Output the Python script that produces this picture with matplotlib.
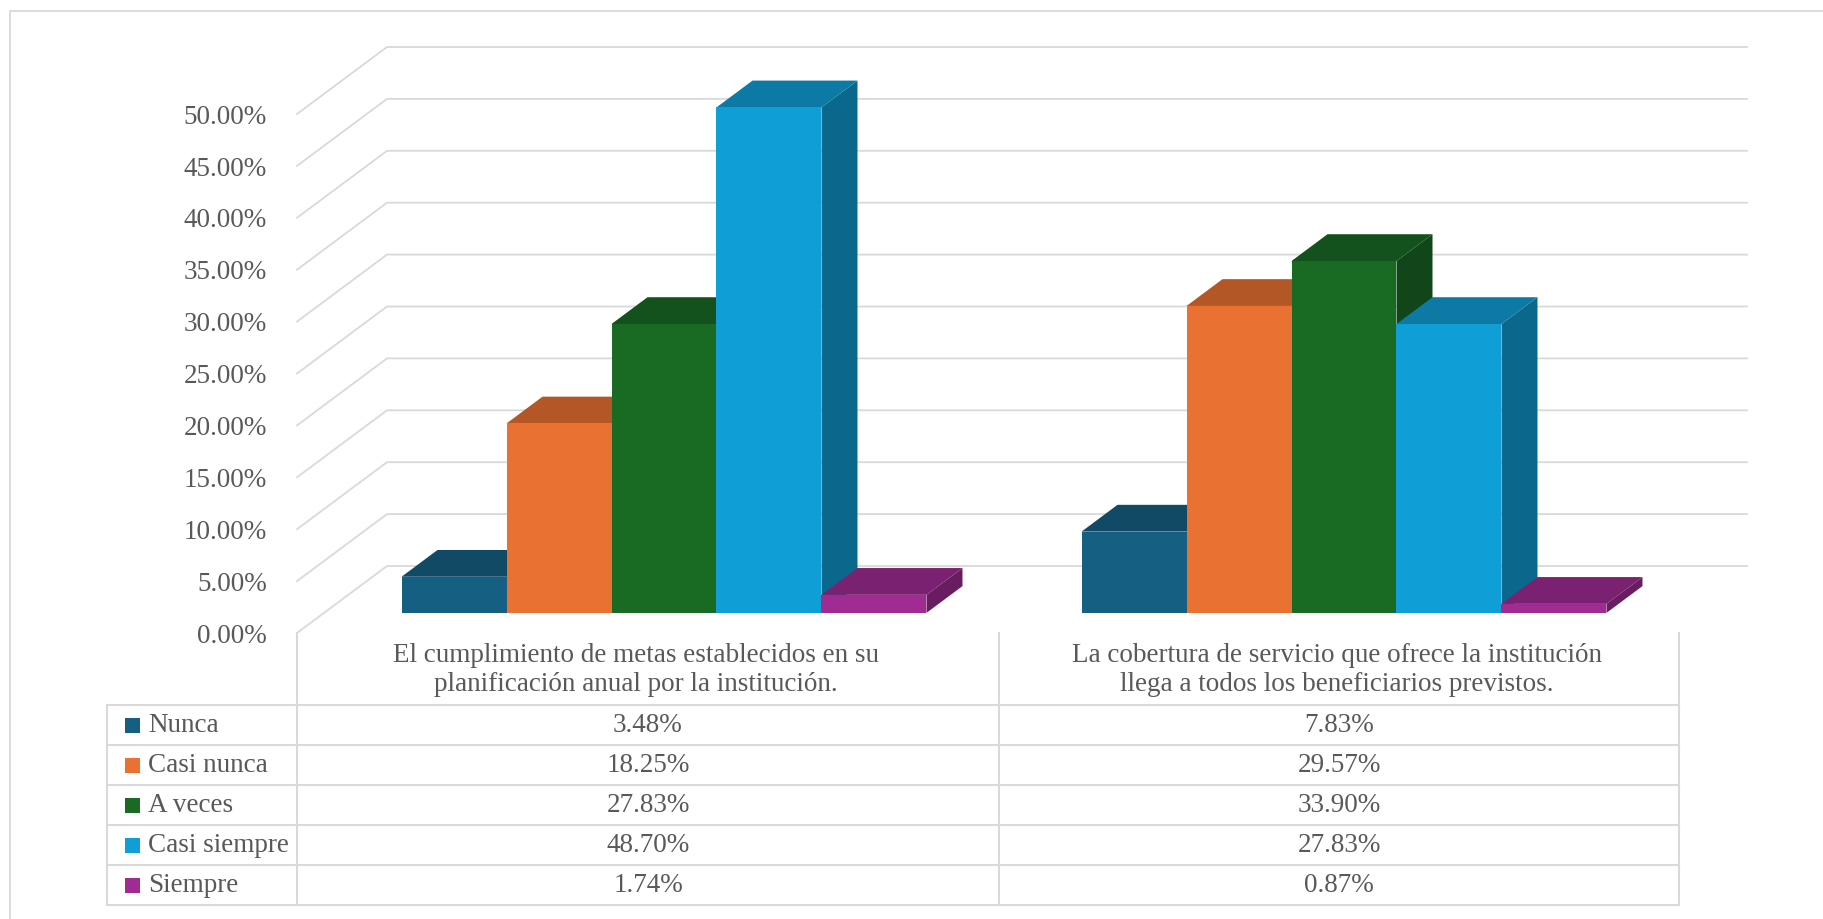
import numpy as np
import matplotlib.pyplot as plt
from matplotlib.patches import Polygon, Rectangle
from matplotlib.colors import to_rgb

plt.rcParams['font.family'] = ['Liberation Serif', 'DejaVu Serif']

## data
categorias = ['El cumplimiento de metas establecidos en su\nplanificación anual por la institución.',
              'La cobertura de servicio que ofrece la institución\nllega a todos los beneficiarios previstos.']
series = ['Nunca', 'Casi nunca', 'A veces', 'Casi siempre', 'Siempre']
nunca = [3.48, 7.83]
casi_nunca = [18.25, 29.57]
a_veces = [27.83, 33.90]
casi_siempre = [48.70, 27.83]
siempre = [1.74, 0.87]
valores = [nunca, casi_nunca, a_veces, casi_siempre, siempre]
colores = ['#156082', '#E97132', '#196B24', '#0F9ED5', '#A02B93']
yticks = np.arange(0, 55, 5)

gris = '#D9D9D9'
texto = '#595959'
fs = 19.5

W, H = 1823, 919
fig = plt.figure(figsize=(W/100, H/100), dpi=100)

## 3d-looking column chart, x in category units, y in percent
ax = fig.add_axes([0, 0, 1, 1])
px_cat = 680.0     # pixels per category
px_pct = 10.38     # pixels per percent
x0_px, y0_px = 297.0, 633.0
ax.set_xlim(-x0_px/px_cat, (W - x0_px)/px_cat)
ax.set_ylim((y0_px - H)/px_pct, y0_px/px_pct)
ax.axis('off')

# depth of the back wall (x, y offsets in data units)
WX, WY = 90.0/px_cat, 67.0/px_pct
t1, t2 = 0.3, 0.7          # bars sit in the middle of the depth
ncat = len(categorias)

def proj(x, v, t):
    return (x + t*WX, v + t*WY)

def shade(c, f):
    r, g, b = to_rgb(c)
    return (r*f, g*f, b*f)

# back wall gridlines + the diagonals coming to the front
for v in yticks:
    a = proj(0, v, 0); b = proj(0, v, 1); c = proj(ncat, v, 1)
    ax.plot([a[0], b[0], c[0]], [a[1], b[1], c[1]], color=gris, lw=1.3, zorder=1,
            solid_joinstyle='miter')
    ax.text(-0.044, v - 0.3, '%.2f%%' % v, ha='right', va='center',
            fontsize=fs, color=texto)

bw = 0.1544
gap = (1 - bw*len(series))/2
for i in range(ncat):
    for j in range(len(series)):
        h = valores[j][i]
        xl = i + gap + j*bw
        xr = xl + bw
        col = colores[j]
        side = [proj(xr, 0, t1), proj(xr, 0, t2), proj(xr, h, t2), proj(xr, h, t1)]
        top = [proj(xl, h, t1), proj(xr, h, t1), proj(xr, h, t2), proj(xl, h, t2)]
        front = [proj(xl, 0, t1), proj(xr, 0, t1), proj(xr, h, t1), proj(xl, h, t1)]
        ax.add_patch(Polygon(side, closed=True, fc=shade(col, 0.66), ec='none', zorder=2))
        ax.add_patch(Polygon(top, closed=True, fc=shade(col, 0.77), ec='none', zorder=2))
        ax.add_patch(Polygon(front, closed=True, fc=col, ec='none', zorder=2))

## data table under the chart (pixel coordinates)
tab = fig.add_axes([0, 0, 1, 1], zorder=3)
tab.set_xlim(0, W)
tab.set_ylim(H, 0)
tab.axis('off')
tab.patch.set_alpha(0)

# outer frame
tab.plot([10, 10, W], [H, 11, 11], color=gris, lw=1.3)

cols = [107, 297, 999, 1679]
rows = [705 + 40*k for k in range(len(series) + 1)]
top_hdr = 633

for xc in cols[1:]:
    tab.plot([xc, xc], [top_hdr, rows[-1]], color=gris, lw=1.5)
tab.plot([cols[0], cols[0]], [rows[0], rows[-1]], color=gris, lw=1.5)
for yr in rows:
    tab.plot([cols[0], cols[-1]], [yr, yr], color=gris, lw=1.5)

hdr_x = [636, 1337]
for i in range(ncat):
    tab.text(hdr_x[i], (top_hdr + rows[0])/2 + 1, categorias[i], ha='center', va='center',
             fontsize=fs, color=texto, linespacing=1.2)

for j in range(len(series)):
    yc = (rows[j] + rows[j+1])/2
    tab.add_patch(Rectangle((125, yc - 7.5), 15, 15, fc=colores[j], ec='none'))
    tab.text(148, yc, series[j], ha='left', va='center', fontsize=fs, color=texto)
    for i in range(ncat):
        xc = (cols[i+1] + cols[i+2])/2
        tab.text(xc, yc, '%.2f%%' % valores[j][i], ha='center', va='center',
                 fontsize=fs, color=texto)

plt.savefig('out.png', dpi=100)
